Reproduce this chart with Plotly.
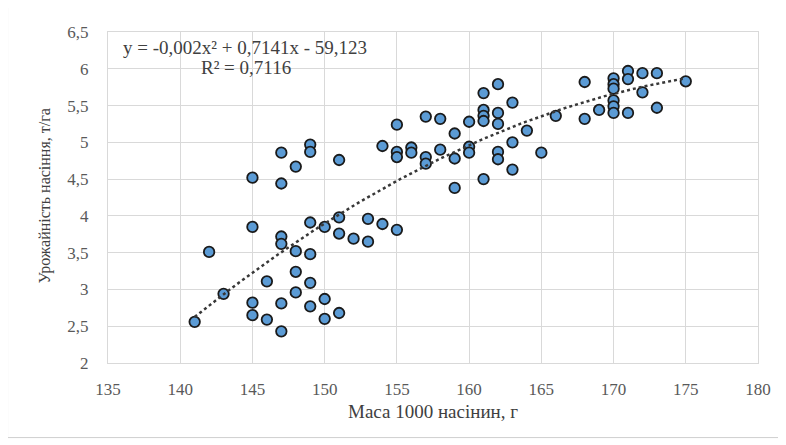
import numpy as np
import plotly.graph_objects as go

# Data: mass of 1000 seeds (g) and seed yield (t/ha)
mass = [141, 142, 143,
        145, 145, 145, 145,
        146, 146,
        147, 147, 147, 147, 147, 147,
        148, 148, 148, 148,
        149, 149, 149, 149, 149, 149,
        150, 150, 150,
        151, 151, 151, 151,
        152,
        153, 153,
        154, 154,
        155, 155, 155, 155,
        156, 156,
        157, 157, 157,
        158, 158,
        159, 159, 159,
        160, 160, 160,
        161, 161, 161, 161, 161,
        162, 162, 162, 162, 162,
        163, 163, 163,
        164, 165, 166,
        168, 168, 169,
        170, 170, 170, 170, 170, 170,
        171, 171, 171,
        172, 172,
        173, 173,
        175]
yield_ = [2.56, 3.51, 2.94,
          4.52, 3.85, 2.82, 2.65,
          3.11, 2.59,
          4.86, 4.44, 3.72, 3.62, 2.81, 2.43,
          4.67, 3.52, 3.24, 2.96,
          4.97, 4.87, 3.91, 3.48, 3.09, 2.77,
          3.85, 2.87, 2.60,
          4.76, 3.98, 3.76, 2.68,
          3.69,
          3.96, 3.65,
          4.95, 3.89,
          5.24, 4.87, 4.80, 3.81,
          4.93, 4.86,
          5.35, 4.80, 4.71,
          5.32, 4.90,
          5.12, 4.78, 4.38,
          5.28, 4.94, 4.86,
          5.67, 5.44, 5.36, 5.29, 4.50,
          5.79, 5.40, 5.25, 4.87, 4.77,
          5.54, 5.00, 4.63,
          5.16, 4.86, 5.36,
          5.82, 5.32, 5.44,
          5.87, 5.79, 5.73, 5.57, 5.49, 5.40,
          5.97, 5.86, 5.40,
          5.94, 5.68,
          5.94, 5.47,
          5.83]

x_ticks = [135, 140, 145, 150, 155, 160, 165, 170, 175, 180]
x_ticktext = ["135", "140", "145", "150", "155", "160", "165", "170", "175", "180"]
y_ticks = [2, 2.5, 3, 3.5, 4, 4.5, 5, 5.5, 6, 6.5]
y_ticktext = ["2", "2,5", "3", "3,5", "4", "4,5", "5", "5,5", "6", "6,5"]

equation_text = "y = -0,002x² + 0,7141x - 59,123"
r2_text = "R² = 0,7116"
x_title = "Маса 1000 насінин, г"
y_title = "Урожайність насіння, т/га"

# Polynomial (order 2) trendline computed from the data, like Excel
coef = np.polyfit(mass, yield_, 2)
xt = np.linspace(min(mass), max(mass), 120)
yt = np.polyval(coef, xt)

FONT = "Liberation Serif"

# plot area in screen pixels (page body adds an 8px offset)
PL, PR, PT, PB = 107.5, 758.0, 31.7, 363.3
OFF = 8
W, H = 786, 445
PW, PH = PR - PL, PB - PT


def px(xp):
    return (xp - PL) / PW


def py(yp):
    return (PB - yp) / PH


fig = go.Figure()
fig.add_trace(go.Scatter(
    x=mass, y=yield_, mode="markers",
    marker=dict(size=10.5, color="#5B9BD5", line=dict(color="#1a1a1a", width=1.8)),
    showlegend=False, hoverinfo="x+y"))
fig.add_trace(go.Scatter(
    x=xt, y=yt, mode="lines",
    line=dict(color="#383838", width=2.5, dash="dot"),
    showlegend=False, hoverinfo="skip"))

fig.update_layout(
    width=W, height=H,
    margin=dict(l=PL - OFF, r=W - PR + OFF, t=PT - OFF, b=H - PB + OFF, autoexpand=False),
    paper_bgcolor="white", plot_bgcolor="white",
    font=dict(family=FONT, size=17, color="#595959"),
    xaxis=dict(range=[135, 180], tickvals=x_ticks, ticktext=x_ticktext,
               showgrid=True, gridcolor="#D9D9D9", gridwidth=1,
               showline=True, linecolor="#D9D9D9", mirror=True,
               zeroline=False, ticks="", ticklabelstandoff=11,
               tickfont=dict(family=FONT, size=17, color="#595959")),
    yaxis=dict(range=[2, 6.5], tickvals=y_ticks, ticktext=y_ticktext,
               showgrid=True, gridcolor="#D9D9D9", gridwidth=1,
               showline=True, linecolor="#D9D9D9", mirror=True,
               zeroline=False, ticks="", ticklabelstandoff=15,
               tickfont=dict(family=FONT, size=17, color="#595959")),
    shapes=[dict(type="rect", xref="paper", yref="paper",
                 x0=px(7), x1=px(779), y0=py(438), y1=py(7),
                 line=dict(color="#CFCFCF", width=1), layer="below")],
    annotations=[
        dict(text=equation_text, xref="paper", yref="paper",
             x=px(245), y=py(47),
             xanchor="center", yanchor="middle", showarrow=False,
             font=dict(family=FONT, size=19, color="#404040")),
        dict(text=r2_text, xref="paper", yref="paper",
             x=px(246), y=py(67),
             xanchor="center", yanchor="middle", showarrow=False,
             font=dict(family=FONT, size=19, color="#404040")),
        dict(text=x_title, xref="paper", yref="paper",
             x=0.5, y=py(412),
             xanchor="center", yanchor="middle", showarrow=False,
             font=dict(family=FONT, size=19, color="#404040")),
        dict(text=y_title, xref="paper", yref="paper", textangle=-90,
             x=px(44), y=py(196),
             xanchor="center", yanchor="middle", showarrow=False,
             font=dict(family=FONT, size=16, color="#404040")),
    ],
)

fig.write_html("out.html")
